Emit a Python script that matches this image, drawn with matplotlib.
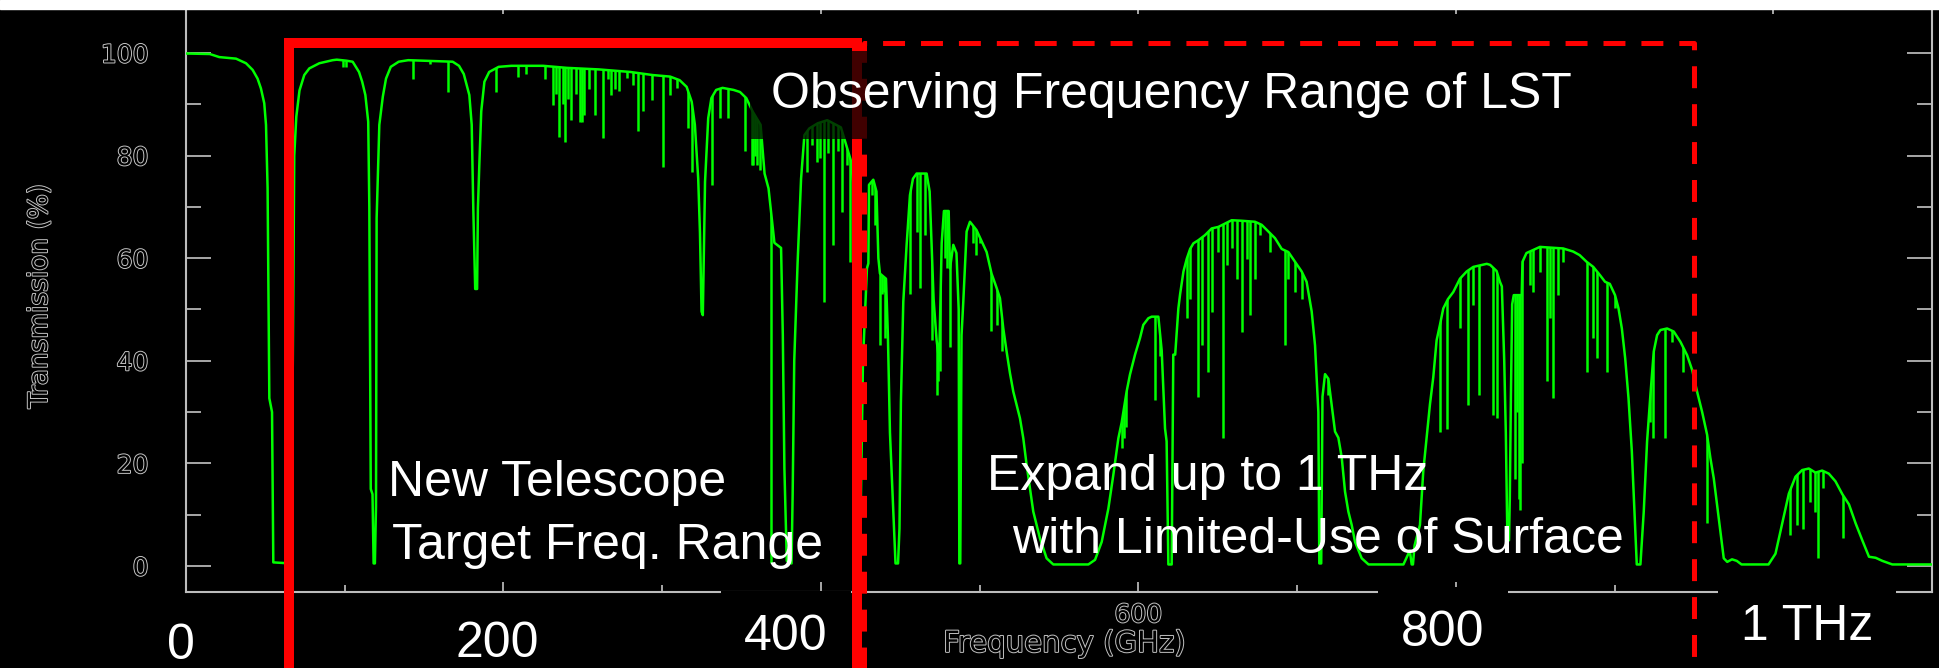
import matplotlib.pyplot as plt
import matplotlib.patheffects as pe
from matplotlib.patches import Rectangle

# atmospheric transmission, smooth part (GHz, %)
env_freq = [0, 15, 21, 31.5, 37.8, 42, 45.1, 47.2, 49.3, 50.4, 51.4, 52.0, 52.5, 54.2, 55.0,
            66.0, 67.3, 68.2, 69.5, 71.5, 74.5, 77.7, 84.0, 92.4, 95.0, 101.0, 105.0, 109.0,
            111.0, 113.0, 114.8, 115.5, 116.4, 117.5, 118.2, 119.0, 119.7, 120.1, 121.8, 124.0,
            126.0, 129.0, 134.0, 140.0, 150.0, 160.0, 168.0, 172.0, 175.0, 178.5, 180.0, 181.0,
            182.2, 183.4, 183.9, 184.8, 186.0, 188.0, 191.0, 197.0, 205.0, 225.0, 240.0, 260.0,
            280.0, 294.0, 305.0, 311.0, 315.4, 318.6, 320.6, 322.7, 323.8, 324.8, 325.6, 326.3,
            327.0, 329.0, 331.0, 334.0, 338.0, 345.0, 349.0, 353.0, 357.0, 362.0, 364.5, 367.0,
            370.7, 374.9, 376.0, 377.0, 378.5, 381.5, 382.2, 383.2, 385.3, 387.5, 389.6, 392.7,
            398.0, 404.0, 412.6, 415.0, 418.9, 421.0, 423.0, 424.8, 426.5, 429.0, 429.9, 430.3,
            433.0, 435.0, 436.2, 437.2, 441.0, 442.2, 443.5, 445.6, 447.0, 448.6, 449.5, 450.4,
            451.9, 454.0, 456.1, 458.0, 460.3, 466.6, 468.5, 469.8, 471.0, 472.9, 474.5, 476.1,
            477.5, 480.5, 481.3, 483.4, 485.4, 486.8, 487.2, 487.8, 488.6, 489.7, 491.8, 493.9,
            498.0, 504.4, 507.5, 510.7, 512.8, 514.9, 517.0, 519.1, 521.2, 525.4, 527.5, 529.6,
            531.7, 533.8, 538.0, 542.2, 546.4, 566.0, 568.5, 572.7, 576.9, 581.1, 584.2, 587.4,
            589.5, 592.6, 594.7, 597.9, 601.0, 603.1, 606.3, 608.4, 612.6, 614.7, 616.8, 617.8,
            618.9, 621.0, 622.0, 623.2, 625.2, 626.3, 628.4, 630.5, 632.6, 634.7, 637.8, 642.0,
            646.2, 650.4, 655.0, 658.8, 665.1, 673.5, 677.7, 681.9, 686.1, 690.3, 694.5, 698.7,
            702.9, 706.0, 709.2, 711.3, 713.4, 714.0, 715.2, 716.0, 717.6, 719.7, 721.8, 723.9,
            726.0, 728.1, 730.2, 732.3, 734.4, 736.5, 740.7, 745.0, 767.0, 771.0, 772.2, 773.0,
            774.0, 777.4, 779.5, 781.6, 783.7, 785.8, 787.9, 790.0, 792.1, 795.0, 798.4, 802.6,
            806.8, 811.0, 815.3, 819.5, 821.6, 825.7, 827.8, 829.0, 830.5, 831.5, 832.5, 833.5,
            834.0, 834.7, 835.5, 836.5, 841.5, 842.0, 843.0, 844.5, 846.6, 853.0, 863.4, 867.6,
            873.9, 878.0, 882.4, 886.6, 890.8, 894.0, 897.0, 900.3, 902.5, 904.6, 906.7, 908.8,
            910.9, 913.0, 914.0, 916.3, 918.4, 920.5, 922.6, 924.7, 926.8, 928.9, 933.1, 937.3,
            941.5, 945.7, 948.9, 952.0, 955.2, 958.3, 960.4, 962.5, 964.6, 966.7, 968.8, 971.0,
            974.0, 977.0, 980.0, 997.0, 1001.4, 1005.6, 1009.8, 1014.0, 1018.2, 1022.4, 1026.6,
            1030.8, 1035.0, 1039.2, 1043.5, 1047.7, 1051.9, 1056.1, 1060.3, 1064.5, 1068.7,
            1075.0, 1100.0]
env_trans = [99.9, 99.8, 99.2, 98.9, 98.0, 96.7, 95.0, 93.1, 90.2, 86.0, 73.7, 50.0, 32.7, 30.0, 0.7,
             0.5, 40.0, 80.0, 87.6, 92.7, 95.7, 97.0, 98.0, 98.6, 98.7, 98.5, 98.3, 96.3,
             94.4, 91.8, 86.6, 70.0, 15.0, 14.0, 0.5, 0.5, 11.6, 67.8, 86.0, 91.5,
             95.0, 97.3, 98.3, 98.6, 98.5, 98.4, 98.3, 97.5, 95.9, 91.8, 86.0, 69.7,
             54.0, 54.0, 69.7, 78.2, 88.6, 94.4, 96.3, 97.3, 97.5, 97.5, 97.1, 96.8,
             96.3, 95.7, 95.4, 94.7, 93.4, 90.5, 86.0, 75.5, 65.0, 49.6, 48.9, 62.0,
             74.9, 87.3, 91.2, 92.8, 93.2, 92.8, 92.4, 91.2, 88.6, 86.0, 76.5, 73.6,
             63.0, 62.0, 45.0, 19.0, 1.0, 0.5, 14.0, 40.0, 59.0, 75.5, 84.0, 85.3,
             86.3, 86.9, 85.5, 83.0, 79.0, 73.0, 50.0, 5.0, 40.0, 58.0, 59.0, 74.3,
             75.3, 73.0, 60.0, 57.0, 56.0, 45.0, 26.0, 10.6, 0.5, 0.5, 7.3, 32.0,
             51.5, 62.6, 72.3, 75.5, 76.5, 76.5, 73.0, 62.0, 52.0, 44.0, 40.0, 63.0,
             69.2, 69.2, 58.0, 62.6, 61.0, 50.0, 0.5, 0.5, 45.0, 51.5, 65.2, 67.1,
             65.5, 61.2, 57.0, 54.2, 52.2, 46.3, 41.8, 37.6, 34.0, 28.8, 24.9, 19.7,
             15.2, 10.6, 5.4, 1.5, 0.3, 0.3, 0.3, 1.2, 4.7, 11.2, 17.7, 24.9,
             28.0, 34.0, 37.3, 41.2, 44.4, 47.0, 48.3, 48.6, 48.6, 42.0, 26.8, 24.3,
             0.3, 0.3, 41.2, 41.2, 50.2, 53.0, 57.4, 59.9, 61.8, 62.9, 63.5, 64.5,
             65.8, 66.1, 66.8, 67.4, 67.3, 67.1, 66.5, 65.2, 63.9, 61.8, 61.2, 59.3,
             57.4, 55.4, 49.6, 43.0, 30.0, 0.5, 0.5, 33.0, 37.4, 36.5, 31.4, 26.2,
             25.0, 21.2, 14.5, 10.6, 8.0, 4.7, 1.5, 0.3, 0.3, 3.0, 0.3, 0.3,
             4.0, 8.0, 18.5, 25.0, 31.5, 36.8, 44.0, 47.0, 50.2, 52.0, 53.4, 56.0,
             57.4, 58.3, 58.6, 58.9, 58.7, 57.5, 55.4, 54.5, 40.0, 26.0, 5.0, 5.0,
             13.0, 33.0, 51.0, 52.8, 52.8, 59.3, 60.0, 61.0, 61.3, 62.2, 62.0, 61.9,
             61.3, 60.6, 59.3, 58.3, 56.7, 55.4, 55.0, 52.8, 50.2, 46.3, 40.5, 32.7,
             22.3, 7.3, 0.3, 0.3, 10.6, 24.3, 33.4, 41.8, 45.0, 46.0, 46.3, 45.7,
             43.7, 41.1, 38.2, 34.0, 30.0, 25.6, 21.0, 17.1, 11.9, 6.7, 1.5, 0.8,
             1.3, 1.0, 0.3, 0.3, 2.4, 8.3, 14.1, 17.4, 18.7, 19.0, 18.2,
             18.6, 18.0, 16.5, 14.0, 12.0, 8.3, 5.0, 1.8, 1.6, 1.0,
             0.3, 0.3]

# narrow absorption lines: centre (GHz) and lowest transmission (%)
line_freq = [98.7, 100.8, 143.0, 154.0, 165.0, 195.3, 209.0, 214.2, 226.4, 231.0, 233.0, 235.2,
             237.3, 238.8, 240.5, 242.5, 245.7, 248.4, 249.5, 250.8, 254.0, 257.9, 262.5, 265.6,
             267.7, 270.0, 273.0, 277.6, 281.8, 285.0, 288.2, 293.4, 300.7, 305.0, 309.1, 316.4,
             318.5, 331.2, 336.4, 341.7, 352.2, 356.4, 357.5, 358.5, 359.6, 361.6, 368.5, 391.0,
             394.1, 397.3, 399.4, 401.9, 404.7, 407.8, 411.0, 413.1, 416.3, 418.4, 432.1, 434.2,
             437.2, 438.4, 439.5, 440.5, 441.6, 456.1, 460.5, 462.6, 465.8, 469.8, 472.9, 474.0,
             475.0, 478.0, 479.5, 481.3, 495.6, 497.8, 500.0, 507.0, 511.0, 514.0, 590.0, 591.0,
             592.0, 610.5, 613.5, 630.5, 632.6, 637.8, 639.9, 644.1, 646.2, 650.4, 653.5, 655.6,
             658.8, 662.0, 665.1, 668.3, 670.4, 673.5, 676.7, 683.0, 692.4, 694.5, 698.7, 702.9,
             719.7, 790.0, 794.2, 802.6, 807.9, 811.1, 814.3, 823.6, 825.7, 837.0, 838.5, 839.5,
             840.5, 841.5, 846.7, 848.8, 853.0, 857.2, 859.3, 861.4, 864.6, 867.7, 882.4, 886.6,
             888.7, 895.0, 900.3, 922.3, 924.4, 931.8, 936.0, 943.4, 958.1, 1010.5, 1014.7,
             1018.9, 1023.1, 1026.3, 1028.4, 1031.5, 1044.1]
line_low = [97.3, 97.3, 95.0, 97.9, 92.4, 92.4, 95.3, 96.0, 95.0, 89.8, 92.0, 83.7,
            90.0, 82.7, 91.0, 87.0, 92.0, 86.6, 86.6, 88.0, 93.0, 88.0, 83.4, 95.0,
            91.8, 93.0, 92.5, 95.1, 93.8, 84.7, 88.6, 90.8, 77.8, 91.8, 93.1, 85.3,
            76.8, 74.3, 87.3, 87.3, 80.8, 78.2, 78.2, 80.0, 78.2, 77.2, 0.5, 76.8,
            82.1, 78.8, 79.5, 51.5, 80.5, 62.6, 80.8, 69.1, 78.2, 59.3, 72.3, 66.5,
            43.1, 53.0, 53.4, 44.4, 46.3, 53.0, 65.2, 54.2, 64.5, 44.0, 33.4, 36.0,
            38.0, 60.0, 58.0, 42.6, 63.0, 60.7, 63.0, 45.9, 47.0, 42.0, 23.0, 25.0,
            27.0, 32.3, 41.0, 48.3, 52.0, 33.0, 43.0, 37.8, 49.6, 61.2, 24.9, 58.7,
            61.9, 56.0, 45.6, 59.9, 48.9, 56.0, 64.5, 61.2, 43.0, 56.0, 53.4, 52.0,
            33.3, 26.2, 26.8, 46.3, 31.4, 50.9, 33.4, 29.4, 28.8, 17.0, 30.0, 13.0,
            11.0, 20.0, 54.8, 53.5, 57.4, 36.0, 48.3, 32.7, 52.8, 59.3, 37.8, 44.4,
            40.5, 37.8, 50.2, 28.0, 24.9, 24.9, 43.7, 37.8, 8.3, 6.1, 8.0,
            7.3, 12.5, 10.6, 1.5, 15.2, 5.4]

x_ticks = [0, 200, 400, 600, 800, 1000]
x_tick_labels = ['', '', '', '600', '', '']   # the others sit under the slide labels
x_minor = [100, 300, 500, 700, 900]
y_ticks = [0, 20, 40, 60, 80, 100]
y_minor = [10, 30, 50, 70, 90]

# slide annotations
freq_marks = ['0', '200', '400', '800', '1 THz']
freq_mark_x = [181, 497, 786, 1443, 1807]
freq_mark_y = [659, 657, 650, 646, 640]

GREEN = '#00ff00'
GREY = '#c4c4c4'
RED = '#ff0000'
W, H = 1940, 668

plt.rcParams['lines.scale_dashes'] = False
plt.rcParams['font.family'] = ['DejaVu Sans']
slide_font = ['Liberation Sans', 'DejaVu Sans']

fig = plt.figure(figsize=(W / 100, H / 100), dpi=100, facecolor='black')
ax = fig.add_axes([186 / W, (H - 592) / H, 1746 / W, 592 / H], facecolor='black')

ax.plot(env_freq, env_trans, color=GREEN, lw=1.8, zorder=3)
under = ax.fill_between(env_freq, env_trans, -10, color='none', lw=0)
spikes = ax.vlines(line_freq, line_low, 110, color=GREEN, lw=1.8, zorder=3)
spikes.set_clip_path(under.get_paths()[0], ax.transData)

ax.set_xlim(0, 1100)
ax.set_ylim(-5.07, 110.33)

for side in ['left', 'right', 'bottom']:
    ax.spines[side].set_color('#bdbdbd')
    ax.spines[side].set_linewidth(1.5)
ax.spines['top'].set_visible(False)

ax.set_xticks(x_ticks, x_tick_labels)
ax.set_xticks(x_minor, minor=True)
ax.set_yticks(y_ticks)
ax.set_yticks(y_minor, minor=True)
ax.tick_params(axis='x', which='major', direction='in', length=7.2, width=1.2,
               color=GREY, labelcolor='black', pad=8, labelsize=18)
ax.tick_params(axis='x', which='minor', direction='in', length=5, width=1.2, color=GREY)
ax.tick_params(axis='y', which='major', direction='in', length=18, width=1.2, right=True,
               color=GREY, labelcolor='black', pad=27, labelsize=18)
ax.tick_params(axis='y', which='minor', direction='in', length=10.8, width=1.2, right=True,
               color=GREY)

sec = ax.secondary_xaxis('top')
sec.set_xticks(x_ticks)
sec.tick_params(direction='in', length=10, width=1.2, color=GREY, labeltop=False)
sec.spines['top'].set_visible(False)

ax.set_xlabel('Frequency (GHz)', fontsize=21, color='black')
ax.xaxis.set_label_coords(0.503, -0.064)
ax.set_ylabel('Transmission (%)', fontsize=19, color='black')
ax.yaxis.set_label_coords(-0.0836, 0.50)
ax.yaxis.label.set_va('center')

hollow = [pe.withStroke(linewidth=1.4, foreground=GREY)]
for t in ax.get_xticklabels() + ax.get_yticklabels() + [ax.xaxis.label, ax.yaxis.label]:
    t.set_path_effects(hollow)

# overlay in pixel units for the slide markings
ov = fig.add_axes([0, 0, 1, 1])
ov.set_xlim(0, W)
ov.set_ylim(H, 0)
ov.axis('off')

ov.plot([289, 289, 857, 857], [720, 43, 43, 720], color=RED, lw=7.2,
        solid_joinstyle='miter', clip_on=False)
ov.plot([864.5, 864.5, 1694.5, 1694.5], [720, 42.5, 42.5, 720], color=RED, lw=3.6,
        dashes=(15.8, 11.5), clip_on=False)

ov.text(771, 108, 'Observing Frequency Range of LST', color='white', fontsize=36,
        family=slide_font, va='baseline', ha='left', zorder=5,
        bbox=dict(boxstyle='square,pad=0.42', facecolor='black', alpha=0.75, edgecolor='none'))
ov.text(388, 496, 'New Telescope', color='white', fontsize=36, family=slide_font,
        va='baseline', ha='left', zorder=5)
ov.text(392, 559, 'Target Freq. Range', color='white', fontsize=36, family=slide_font,
        va='baseline', ha='left', zorder=5)
ov.text(987, 490, 'Expand up to 1 THz', color='white', fontsize=36, family=slide_font,
        va='baseline', ha='left', zorder=5)
ov.text(1012, 553, 'with Limited-Use of Surface', color='white', fontsize=36,
        family=slide_font, va='baseline', ha='left', zorder=5)

for label, x, y in zip(freq_marks, freq_mark_x, freq_mark_y):
    ov.text(x, y, label, color='white', fontsize=36, family=slide_font, va='baseline',
            ha='center', zorder=5,
            bbox=dict(boxstyle='square,pad=0.46', facecolor='black', edgecolor='none'))

ov.add_patch(Rectangle((0, 0), W, 9, color='white', zorder=10))

fig.savefig('out.png', dpi=100, facecolor='black')
